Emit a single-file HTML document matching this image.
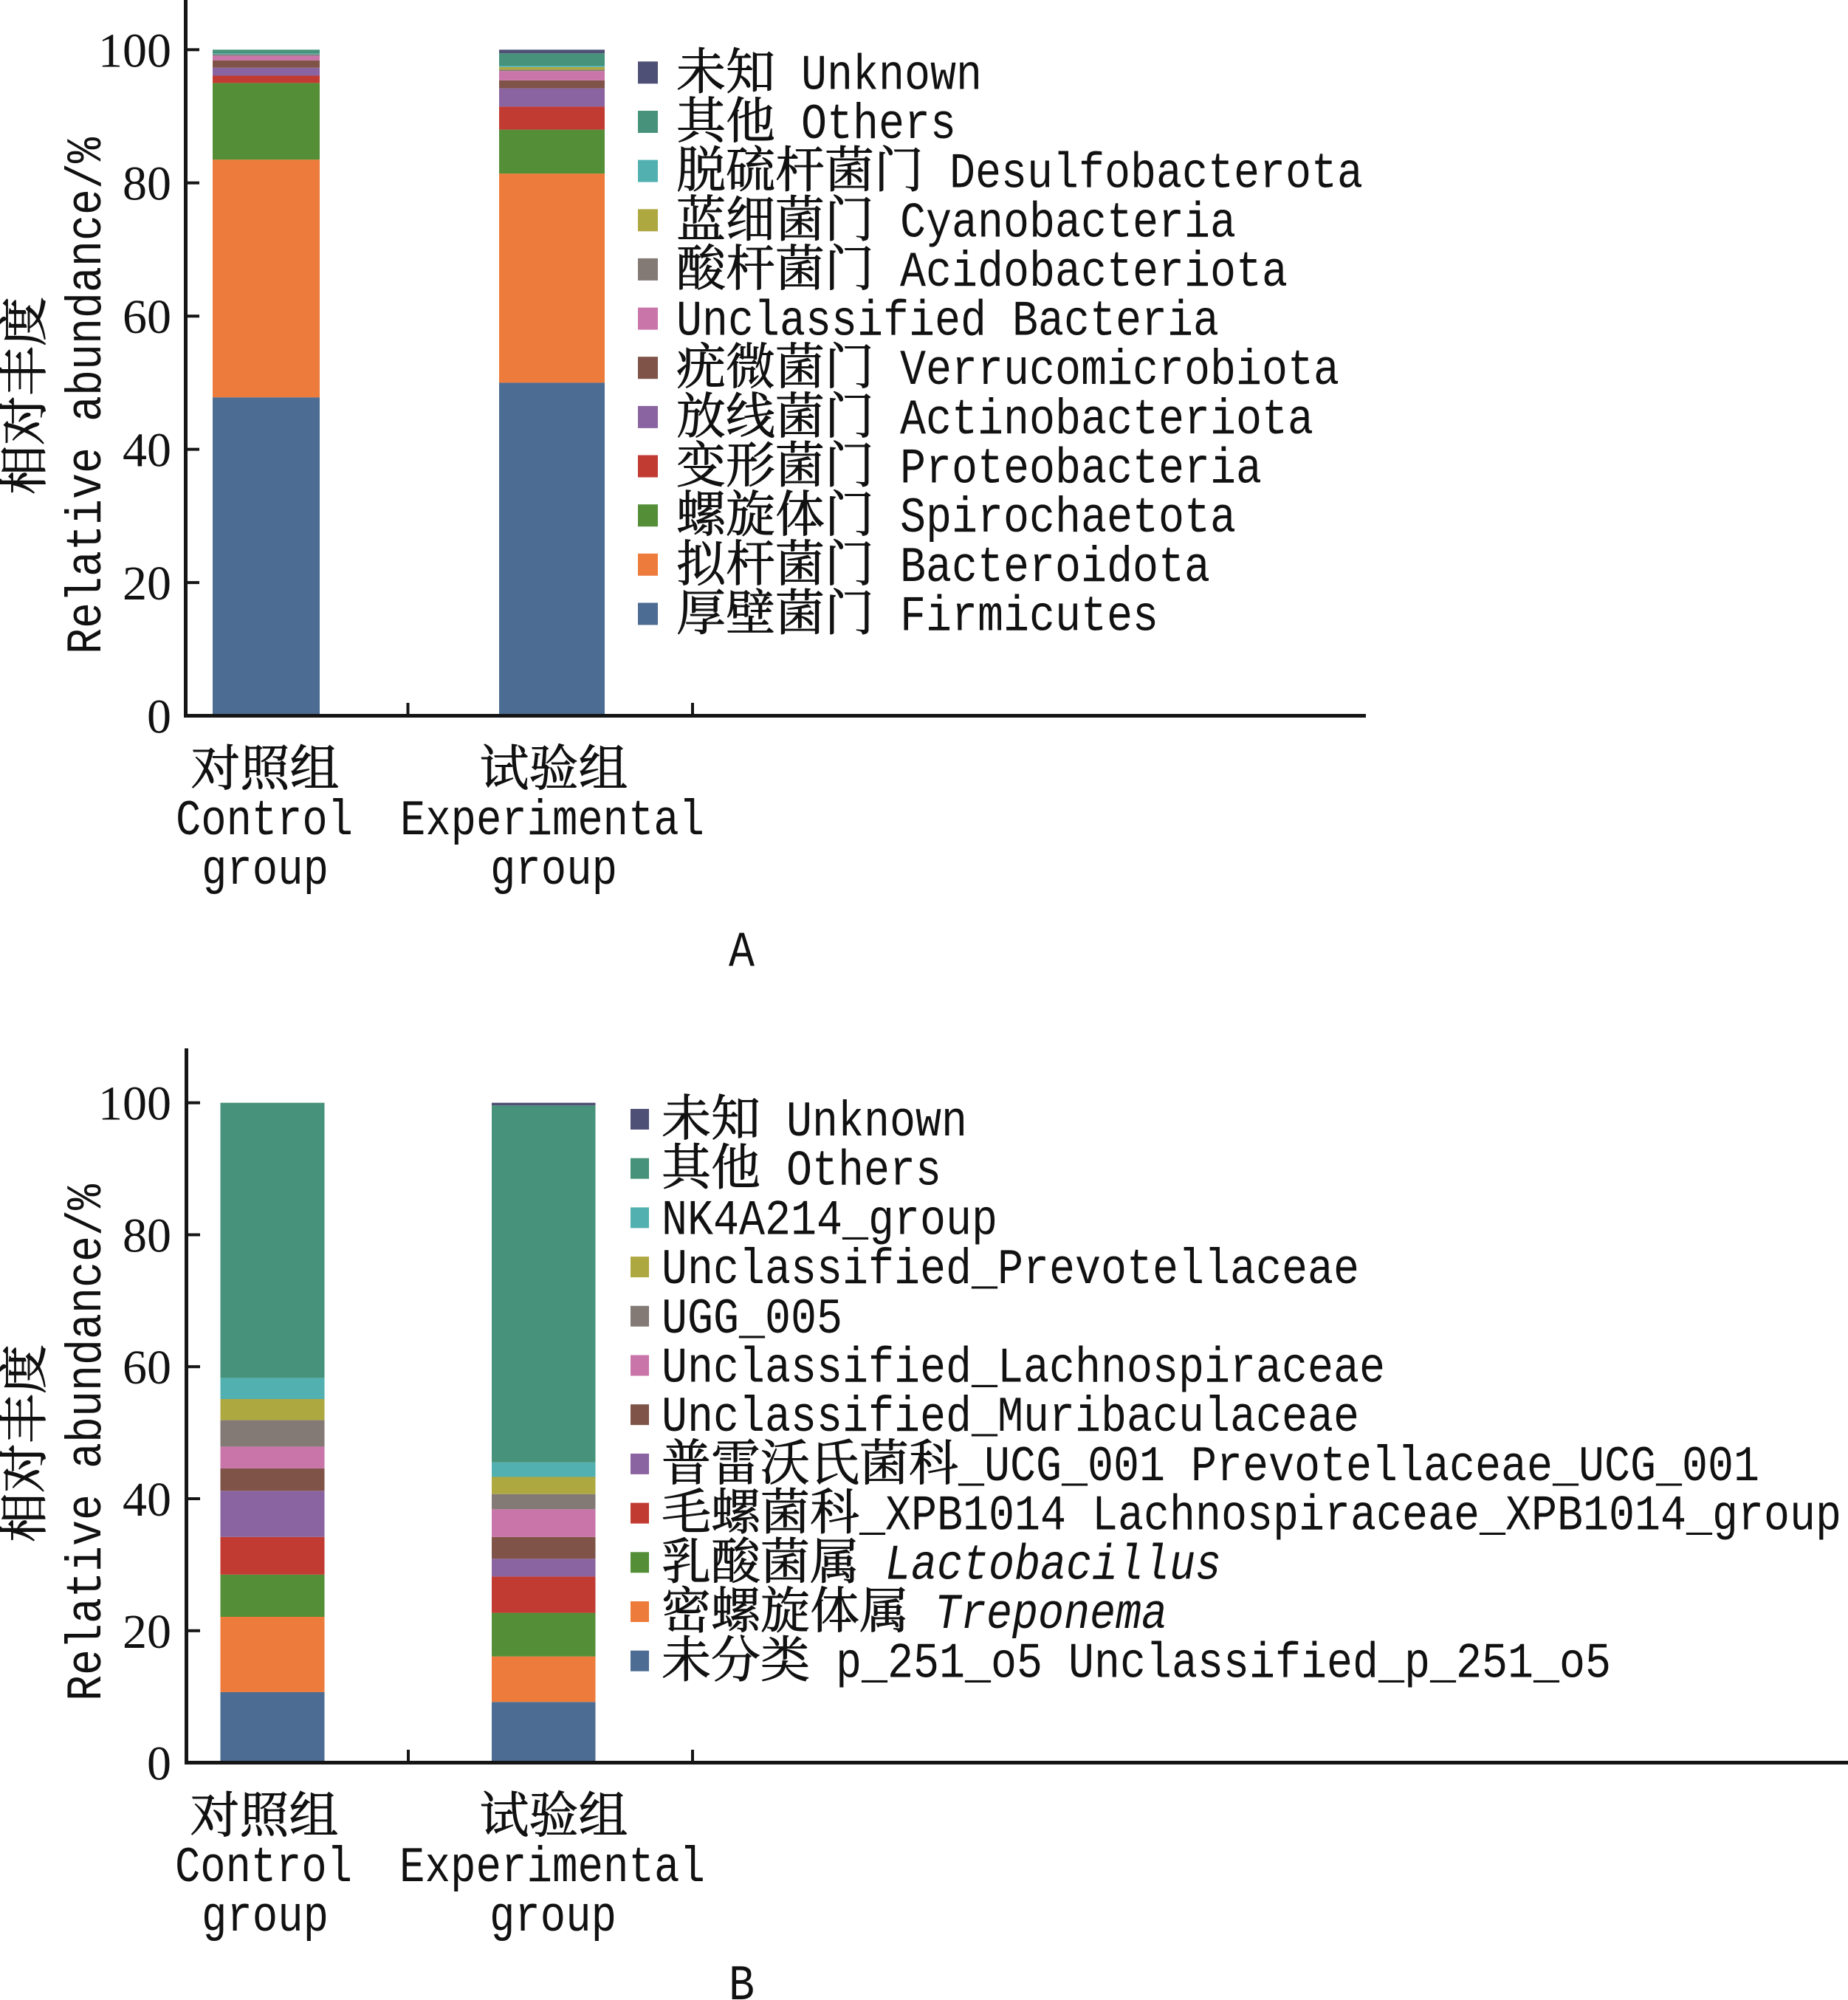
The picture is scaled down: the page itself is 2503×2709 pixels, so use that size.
<!DOCTYPE html>
<html><head><meta charset="utf-8"><style>
html,body{margin:0;padding:0;background:#fff;}
svg{display:block;}
.cj{font-family:"Noto Serif CJK SC","Noto Sans CJK SC",serif;font-size:67px;fill:#111;stroke:#111;stroke-width:0.9px;}
.lt{font-family:"Liberation Mono",monospace;font-size:68px;fill:#111;}
.tk{font-family:"Liberation Serif",serif;font-size:66px;fill:#111;}
.it{font-style:italic;}
</style></head><body>
<svg width="2503" height="2709" viewBox="0 0 2503 2709" xmlns="http://www.w3.org/2000/svg">
<rect width="2503" height="2709" fill="#fff"/>
<!-- ===== Panel A bars ===== -->
<g>
<rect x="288" y="538.2" width="145" height="431.3" fill="#4d6c93"/>
<rect x="288" y="216.2" width="145" height="322" fill="#ed7b3b"/>
<rect x="288" y="112.4" width="145" height="103.8" fill="#548f38"/>
<rect x="288" y="102.5" width="145" height="9.9" fill="#c13b33"/>
<rect x="288" y="91.7" width="145" height="10.8" fill="#8a64a0"/>
<rect x="288" y="81.7" width="145" height="10" fill="#7f5348"/>
<rect x="288" y="75.4" width="145" height="6.3" fill="#c975a9"/>
<rect x="288" y="73.6" width="145" height="1.8" fill="#837975"/>
<rect x="288" y="72.3" width="145" height="1.3" fill="#52b0b0"/>
<rect x="288" y="67.3" width="145" height="5" fill="#47927a"/>

<rect x="676" y="518.4" width="143" height="451.1" fill="#4d6c93"/>
<rect x="676" y="235.1" width="143" height="283.3" fill="#ed7b3b"/>
<rect x="676" y="175.6" width="143" height="59.5" fill="#548f38"/>
<rect x="676" y="144.4" width="143" height="31.2" fill="#c13b33"/>
<rect x="676" y="119.6" width="143" height="24.8" fill="#8a64a0"/>
<rect x="676" y="108.8" width="143" height="10.8" fill="#7f5348"/>
<rect x="676" y="96.2" width="143" height="12.6" fill="#c975a9"/>
<rect x="676" y="94.4" width="143" height="1.8" fill="#837975"/>
<rect x="676" y="90.8" width="143" height="3.6" fill="#aea841"/>
<rect x="676" y="89.0" width="143" height="1.8" fill="#52b0b0"/>
<rect x="676" y="72.3" width="143" height="16.7" fill="#47927a"/>
<rect x="676" y="67.3" width="143" height="5" fill="#4e5075"/>
</g>
<!-- Panel A axes -->
<g fill="#151515">
<rect x="249" y="0" width="5" height="972"/>
<rect x="249" y="967" width="1601" height="5"/>
<rect x="251" y="65.3" width="19" height="4"/>
<rect x="251" y="245.7" width="19" height="4"/>
<rect x="251" y="426.2" width="19" height="4"/>
<rect x="251" y="606.6" width="19" height="4"/>
<rect x="251" y="787.1" width="19" height="4"/>
<rect x="550.5" y="952" width="4" height="17"/>
<rect x="936" y="952" width="4" height="17"/>
</g>
<g class="tk" text-anchor="end">
<text x="232" y="90.3">100</text>
<text x="232" y="270.7">80</text>
<text x="232" y="451.2">60</text>
<text x="232" y="631.6">40</text>
<text x="232" y="812.1">20</text>
<text x="232" y="992.5">0</text>
</g>
<text class="cj" x="-134" y="0" textLength="268" lengthAdjust="spacingAndGlyphs" transform="translate(56,536) rotate(-90)">相对丰度</text>
<text class="lt" x="-350" y="0" textLength="700" lengthAdjust="spacingAndGlyphs" transform="translate(136,536) rotate(-90)">Relative abundance/%</text>
<!-- x labels A -->
<text class="cj" x="258.5" y="1064" textLength="201" lengthAdjust="spacingAndGlyphs">对照组</text>
<text class="cj" x="649.5" y="1064" textLength="201" lengthAdjust="spacingAndGlyphs">试验组</text>
<text class="lt" x="238" y="1130" textLength="240" lengthAdjust="spacingAndGlyphs">Control</text>
<text class="lt" x="542" y="1130" textLength="412" lengthAdjust="spacingAndGlyphs">Experimental</text>
<text class="lt" x="273" y="1197" textLength="172" lengthAdjust="spacingAndGlyphs">group</text>
<text class="lt" x="664" y="1197" textLength="172" lengthAdjust="spacingAndGlyphs">group</text>
<text class="lt" x="987" y="1308" textLength="35" lengthAdjust="spacingAndGlyphs">A</text>
<!-- Legend A -->
<g>
<rect x="864" y="83.3" width="27" height="30" fill="#4e5075"/>
<rect x="864" y="150" width="27" height="30" fill="#47927a"/>
<rect x="864" y="216.6" width="27" height="30" fill="#52b0b0"/>
<rect x="864" y="283.3" width="27" height="30" fill="#aea841"/>
<rect x="864" y="349.9" width="27" height="30" fill="#837975"/>
<rect x="864" y="416.6" width="27" height="30" fill="#c975a9"/>
<rect x="864" y="483.2" width="27" height="30" fill="#7f5348"/>
<rect x="864" y="549.9" width="27" height="30" fill="#8a64a0"/>
<rect x="864" y="616.5" width="27" height="30" fill="#c13b33"/>
<rect x="864" y="683.2" width="27" height="30" fill="#548f38"/>
<rect x="864" y="749.8" width="27" height="30" fill="#ed7b3b"/>
<rect x="864" y="816.5" width="27" height="30" fill="#4d6c93"/>
</g>
<g>
<text class="cj" x="916" y="120.3" textLength="134" lengthAdjust="spacingAndGlyphs">未知</text>
<text class="lt" x="1085" y="120.3" textLength="245" lengthAdjust="spacingAndGlyphs">Unknown</text>
<text class="cj" x="916" y="187" textLength="134" lengthAdjust="spacingAndGlyphs">其他</text>
<text class="lt" x="1085" y="187" textLength="210" lengthAdjust="spacingAndGlyphs">Others</text>
<text class="cj" x="916" y="253.6" textLength="335" lengthAdjust="spacingAndGlyphs">脱硫杆菌门</text>
<text class="lt" x="1286" y="253.6" textLength="560" lengthAdjust="spacingAndGlyphs">Desulfobacterota</text>
<text class="cj" x="916" y="320.3" textLength="268" lengthAdjust="spacingAndGlyphs">蓝细菌门</text>
<text class="lt" x="1219" y="320.3" textLength="455" lengthAdjust="spacingAndGlyphs">Cyanobacteria</text>
<text class="cj" x="916" y="386.9" textLength="268" lengthAdjust="spacingAndGlyphs">酸杆菌门</text>
<text class="lt" x="1219" y="386.9" textLength="525" lengthAdjust="spacingAndGlyphs">Acidobacteriota</text>
<text class="lt" x="916" y="453.6" textLength="735" lengthAdjust="spacingAndGlyphs">Unclassified Bacteria</text>
<text class="cj" x="916" y="520.2" textLength="268" lengthAdjust="spacingAndGlyphs">疣微菌门</text>
<text class="lt" x="1219" y="520.2" textLength="595" lengthAdjust="spacingAndGlyphs">Verrucomicrobiota</text>
<text class="cj" x="916" y="586.9" textLength="268" lengthAdjust="spacingAndGlyphs">放线菌门</text>
<text class="lt" x="1219" y="586.9" textLength="560" lengthAdjust="spacingAndGlyphs">Actinobacteriota</text>
<text class="cj" x="916" y="653.5" textLength="268" lengthAdjust="spacingAndGlyphs">变形菌门</text>
<text class="lt" x="1219" y="653.5" textLength="490" lengthAdjust="spacingAndGlyphs">Proteobacteria</text>
<text class="cj" x="916" y="720.2" textLength="268" lengthAdjust="spacingAndGlyphs">螺旋体门</text>
<text class="lt" x="1219" y="720.2" textLength="455" lengthAdjust="spacingAndGlyphs">Spirochaetota</text>
<text class="cj" x="916" y="786.8" textLength="268" lengthAdjust="spacingAndGlyphs">拟杆菌门</text>
<text class="lt" x="1219" y="786.8" textLength="420" lengthAdjust="spacingAndGlyphs">Bacteroidota</text>
<text class="cj" x="916" y="853.5" textLength="268" lengthAdjust="spacingAndGlyphs">厚壁菌门</text>
<text class="lt" x="1219" y="853.5" textLength="350" lengthAdjust="spacingAndGlyphs">Firmicutes</text>
</g>

<!-- ===== Panel B bars ===== -->
<g>
<rect x="298.5" y="2291.9" width="141" height="95.6" fill="#4d6c93"/>
<rect x="298.5" y="2190.0" width="141" height="101.9" fill="#ed7b3b"/>
<rect x="298.5" y="2132.8" width="141" height="57.2" fill="#548f38"/>
<rect x="298.5" y="2081.8" width="141" height="51" fill="#c13b33"/>
<rect x="298.5" y="2019.3" width="141" height="62.5" fill="#8a64a0"/>
<rect x="298.5" y="1988.9" width="141" height="30.4" fill="#7f5348"/>
<rect x="298.5" y="1959.4" width="141" height="29.5" fill="#c975a9"/>
<rect x="298.5" y="1923.6" width="141" height="35.8" fill="#837975"/>
<rect x="298.5" y="1895.0" width="141" height="28.6" fill="#aea841"/>
<rect x="298.5" y="1866.4" width="141" height="28.6" fill="#52b0b0"/>
<rect x="298.5" y="1493.7" width="141" height="372.7" fill="#47927a"/>

<rect x="666" y="2305.3" width="140.5" height="82.2" fill="#4d6c93"/>
<rect x="666" y="2243.6" width="140.5" height="61.7" fill="#ed7b3b"/>
<rect x="666" y="2184.6" width="140.5" height="59" fill="#548f38"/>
<rect x="666" y="2135.4" width="140.5" height="49.2" fill="#c13b33"/>
<rect x="666" y="2111.3" width="140.5" height="24.1" fill="#8a64a0"/>
<rect x="666" y="2081.8" width="140.5" height="29.5" fill="#7f5348"/>
<rect x="666" y="2044.3" width="140.5" height="37.5" fill="#c975a9"/>
<rect x="666" y="2023.7" width="140.5" height="20.6" fill="#837975"/>
<rect x="666" y="2000.5" width="140.5" height="23.2" fill="#aea841"/>
<rect x="666" y="1980.8" width="140.5" height="19.7" fill="#52b0b0"/>
<rect x="666" y="1497.3" width="140.5" height="483.5" fill="#47927a"/>
<rect x="666" y="1493.7" width="140.5" height="3.6" fill="#4e5075"/>
</g>
<!-- Panel B axes -->
<g fill="#151515">
<rect x="250" y="1420" width="5" height="970"/>
<rect x="250" y="2385" width="2253" height="5"/>
<rect x="252" y="1491.7" width="19" height="4"/>
<rect x="252" y="1670.5" width="19" height="4"/>
<rect x="252" y="1849.2" width="19" height="4"/>
<rect x="252" y="2028" width="19" height="4"/>
<rect x="252" y="2206.8" width="19" height="4"/>
<rect x="551" y="2370" width="4" height="17"/>
<rect x="936" y="2370" width="4" height="17"/>
</g>
<g class="tk" text-anchor="end">
<text x="232" y="1516.7">100</text>
<text x="232" y="1695.5">80</text>
<text x="232" y="1874.2">60</text>
<text x="232" y="2053">40</text>
<text x="232" y="2231.8">20</text>
<text x="232" y="2410.5">0</text>
</g>
<text class="cj" x="-134" y="0" textLength="268" lengthAdjust="spacingAndGlyphs" transform="translate(56,1955) rotate(-90)">相对丰度</text>
<text class="lt" x="-350" y="0" textLength="700" lengthAdjust="spacingAndGlyphs" transform="translate(136,1954) rotate(-90)">Relative abundance/%</text>
<!-- x labels B -->
<text class="cj" x="257.5" y="2482" textLength="201" lengthAdjust="spacingAndGlyphs">对照组</text>
<text class="cj" x="649.5" y="2482" textLength="201" lengthAdjust="spacingAndGlyphs">试验组</text>
<text class="lt" x="237" y="2548" textLength="240" lengthAdjust="spacingAndGlyphs">Control</text>
<text class="lt" x="541" y="2548" textLength="414" lengthAdjust="spacingAndGlyphs">Experimental</text>
<text class="lt" x="273" y="2615" textLength="172" lengthAdjust="spacingAndGlyphs">group</text>
<text class="lt" x="663" y="2615" textLength="172" lengthAdjust="spacingAndGlyphs">group</text>
<text class="lt" x="987" y="2708" textLength="35" lengthAdjust="spacingAndGlyphs">B</text>
<!-- Legend B -->
<g>
<rect x="854" y="1502" width="25" height="28" fill="#4e5075"/>
<rect x="854" y="1568.7" width="25" height="28" fill="#47927a"/>
<rect x="854" y="1635.4" width="25" height="28" fill="#52b0b0"/>
<rect x="854" y="1702.1" width="25" height="28" fill="#aea841"/>
<rect x="854" y="1768.8" width="25" height="28" fill="#837975"/>
<rect x="854" y="1835.5" width="25" height="28" fill="#c975a9"/>
<rect x="854" y="1902.2" width="25" height="28" fill="#7f5348"/>
<rect x="854" y="1968.9" width="25" height="28" fill="#8a64a0"/>
<rect x="854" y="2035.6" width="25" height="28" fill="#c13b33"/>
<rect x="854" y="2102.3" width="25" height="28" fill="#548f38"/>
<rect x="854" y="2169" width="25" height="28" fill="#ed7b3b"/>
<rect x="854" y="2235.7" width="25" height="28" fill="#4d6c93"/>
</g>
<g>
<text class="cj" x="896" y="1538" textLength="134" lengthAdjust="spacingAndGlyphs">未知</text>
<text class="lt" x="1065" y="1538" textLength="245" lengthAdjust="spacingAndGlyphs">Unknown</text>
<text class="cj" x="896" y="1604.7" textLength="134" lengthAdjust="spacingAndGlyphs">其他</text>
<text class="lt" x="1065" y="1604.7" textLength="210" lengthAdjust="spacingAndGlyphs">Others</text>
<text class="lt" x="896" y="1671.4" textLength="455" lengthAdjust="spacingAndGlyphs">NK4A214_group</text>
<text class="lt" x="896" y="1738.1" textLength="945" lengthAdjust="spacingAndGlyphs">Unclassified_Prevotellaceae</text>
<text class="lt" x="896" y="1804.8" textLength="245" lengthAdjust="spacingAndGlyphs">UGG_005</text>
<text class="lt" x="896" y="1871.5" textLength="980" lengthAdjust="spacingAndGlyphs">Unclassified_Lachnospiraceae</text>
<text class="lt" x="896" y="1938.2" textLength="945" lengthAdjust="spacingAndGlyphs">Unclassified_Muribaculaceae</text>
<text class="cj" x="896" y="2004.9" textLength="402" lengthAdjust="spacingAndGlyphs">普雷沃氏菌科</text>
<text class="lt" x="1298" y="2004.9" textLength="1085" lengthAdjust="spacingAndGlyphs">_UCG_001 Prevotellaceae_UCG_001</text>
<text class="cj" x="896" y="2071.6" textLength="268" lengthAdjust="spacingAndGlyphs">毛螺菌科</text>
<text class="lt" x="1164" y="2071.6" textLength="1330" lengthAdjust="spacingAndGlyphs">_XPB1014 Lachnospiraceae_XPB1014_group</text>
<text class="cj" x="896" y="2138.3" textLength="268" lengthAdjust="spacingAndGlyphs">乳酸菌属</text>
<text class="lt it" x="1199" y="2138.3" textLength="455" lengthAdjust="spacingAndGlyphs">Lactobacillus</text>
<text class="cj" x="896" y="2205" textLength="335" lengthAdjust="spacingAndGlyphs">密螺旋体属</text>
<text class="lt it" x="1266" y="2205" textLength="315" lengthAdjust="spacingAndGlyphs">Treponema</text>
<text class="cj" x="896" y="2271.7" textLength="201" lengthAdjust="spacingAndGlyphs">未分类</text>
<text class="lt" x="1132" y="2271.7" textLength="1050" lengthAdjust="spacingAndGlyphs">p_251_o5 Unclassified_p_251_o5</text>
</g>
</svg>
</body></html>
